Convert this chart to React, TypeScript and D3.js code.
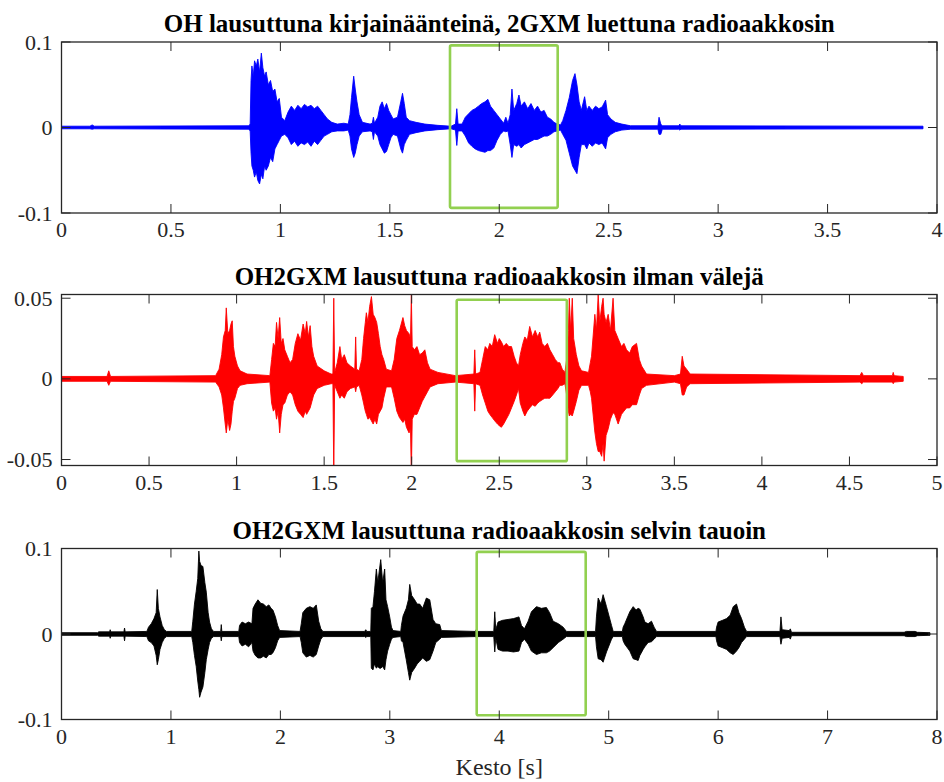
import React from "react";
import * as d3 from "d3";

type Env = [number, number, number][]; // [time s, upper, lower]

const titles = [
  "OH lausuttuna kirjainäänteinä, 2GXM luettuna radioaakkosin",
  "OH2GXM lausuttuna radioaakkosin ilman välejä",
  "OH2GXM lausuttuna radioaakkosin selvin tauoin",
];
const xLabel = "Kesto [s]";

const xTicks1 = [0, 0.5, 1, 1.5, 2, 2.5, 3, 3.5, 4];
const xTicks2 = [0, 0.5, 1, 1.5, 2, 2.5, 3, 3.5, 4, 4.5, 5];
const xTicks3 = [0, 1, 2, 3, 4, 5, 6, 7, 8];
const yTicks1 = [-0.1, 0, 0.1];
const yTicks2 = [-0.05, 0, 0.05];
const yTicks3 = [-0.1, 0, 0.1];

// highlighted word: [t0, t1, top, bottom]
const box1 = [1.775, 2.267, 0.096, -0.094];
const box2 = [2.257, 2.886, 0.049, -0.051];
const box3 = [3.794, 4.79, 0.096, -0.095];

// envelope of the blue waveform
const blueEnv: Env = [
  [0, 0.0015, -0.0015], [0.13, 0.0015, -0.0015], [0.14, 0.003, -0.002], [0.15, 0.0015, -0.0015],
  [0.855, 0.002, -0.002], [0.862, 0.004, -0.004], [0.866, 0.055, -0.03], [0.87, 0.072, -0.045],
  [0.876, 0.06, -0.05], [0.882, 0.078, -0.058], [0.89, 0.072, -0.052], [0.897, 0.08, -0.062],
  [0.905, 0.065, -0.066], [0.913, 0.087, -0.055], [0.92, 0.07, -0.06], [0.928, 0.06, -0.045],
  [0.935, 0.065, -0.05], [0.945, 0.05, -0.045], [0.955, 0.055, -0.035], [0.965, 0.042, -0.04],
  [0.975, 0.045, -0.025], [0.985, 0.03, -0.02], [0.995, 0.034, -0.015], [1.005, 0.012, -0.01],
  [1.02, 0.008, -0.008], [1.035, 0.018, -0.012], [1.05, 0.025, -0.02], [1.065, 0.02, -0.016],
  [1.08, 0.026, -0.022], [1.095, 0.022, -0.018], [1.11, 0.027, -0.02], [1.125, 0.024, -0.017],
  [1.14, 0.026, -0.022], [1.155, 0.022, -0.016], [1.17, 0.025, -0.02], [1.185, 0.02, -0.015],
  [1.2, 0.015, -0.01], [1.215, 0.01, -0.008], [1.235, 0.006, -0.005], [1.26, 0.004, -0.004],
  [1.29, 0.005, -0.004], [1.31, 0.004, -0.003], [1.318, 0.015, -0.01], [1.325, 0.035, -0.025],
  [1.335, 0.06, -0.035], [1.342, 0.045, -0.03], [1.35, 0.03, -0.02], [1.36, 0.015, -0.01],
  [1.375, 0.006, -0.005], [1.41, 0.004, -0.004], [1.42, 0.005, -0.005], [1.425, 0.012, -0.014],
  [1.43, 0.005, -0.005], [1.445, 0.012, -0.01], [1.455, 0.025, -0.02], [1.465, 0.03, -0.025],
  [1.475, 0.022, -0.03], [1.485, 0.028, -0.028], [1.495, 0.02, -0.02], [1.505, 0.015, -0.012],
  [1.515, 0.01, -0.008], [1.535, 0.012, -0.01], [1.55, 0.03, -0.025], [1.558, 0.04, -0.03],
  [1.566, 0.028, -0.02], [1.575, 0.012, -0.015], [1.59, 0.008, -0.008], [1.62, 0.006, -0.006],
  [1.66, 0.004, -0.004], [1.72, 0.0025, -0.0025], [1.78, 0.0015, -0.0015], [1.8, 0.004, -0.003],
  [1.806, 0.022, -0.021], [1.812, 0.004, -0.004], [1.83, 0.004, -0.004], [1.845, 0.012, -0.01],
  [1.86, 0.016, -0.018], [1.875, 0.02, -0.022], [1.89, 0.022, -0.025], [1.905, 0.025, -0.027],
  [1.92, 0.028, -0.028], [1.935, 0.03, -0.029], [1.948, 0.033, -0.027], [1.96, 0.025, -0.027],
  [1.975, 0.02, -0.024], [1.99, 0.015, -0.015], [2.005, 0.01, -0.008], [2.02, 0.005, -0.004],
  [2.03, 0.012, -0.005], [2.04, 0.005, -0.004], [2.05, 0.015, -0.02], [2.058, 0.045, -0.035],
  [2.066, 0.02, -0.02], [2.08, 0.028, -0.022], [2.09, 0.038, -0.02], [2.1, 0.025, -0.024],
  [2.115, 0.03, -0.02], [2.13, 0.022, -0.018], [2.145, 0.028, -0.016], [2.16, 0.02, -0.014],
  [2.175, 0.025, -0.014], [2.19, 0.018, -0.012], [2.205, 0.02, -0.01], [2.22, 0.012, -0.01],
  [2.235, 0.01, -0.008], [2.25, 0.006, -0.005], [2.265, 0.004, -0.004], [2.28, 0.003, -0.003],
  [2.29, 0.008, -0.008], [2.305, 0.02, -0.015], [2.32, 0.035, -0.03], [2.335, 0.055, -0.045],
  [2.346, 0.063, -0.05], [2.355, 0.05, -0.054], [2.365, 0.03, -0.035], [2.375, 0.02, -0.02],
  [2.39, 0.036, -0.02], [2.4, 0.02, -0.025], [2.41, 0.025, -0.018], [2.425, 0.02, -0.022],
  [2.44, 0.025, -0.018], [2.455, 0.022, -0.02], [2.47, 0.024, -0.018], [2.486, 0.032, -0.025],
  [2.495, 0.015, -0.012], [2.51, 0.01, -0.008], [2.53, 0.006, -0.005], [2.56, 0.004, -0.003],
  [2.6, 0.002, -0.002], [2.725, 0.002, -0.002], [2.73, 0.012, -0.008], [2.738, 0.004, -0.008],
  [2.745, 0.002, -0.002], [2.82, 0.002, -0.002], [2.825, 0.004, -0.003], [2.83, 0.002, -0.002],
  [3.936, 0.0015, -0.0015],
];

// red waveform envelope
const redEnv: Env = [
  [0, 0.0015, -0.0015], [0.26, 0.0015, -0.0015], [0.27, 0.005, -0.004], [0.28, 0.0015, -0.0015],
  [0.88, 0.002, -0.002], [0.9, 0.006, -0.005], [0.915, 0.015, -0.01], [0.925, 0.026, -0.018],
  [0.935, 0.03, -0.028], [0.941, 0.044, -0.0335], [0.95, 0.028, -0.025], [0.96, 0.03, -0.032],
  [0.968, 0.034, -0.028], [0.975, 0.036, -0.02], [0.982, 0.02, -0.014], [0.99, 0.014, -0.012],
  [1.005, 0.008, -0.006], [1.02, 0.005, -0.004], [1.06, 0.003, -0.003], [1.19, 0.002, -0.002],
  [1.2, 0.012, -0.015], [1.21, 0.022, -0.02], [1.22, 0.02, -0.018], [1.228, 0.035, -0.025],
  [1.237, 0.025, -0.02], [1.246, 0.038, -0.0335], [1.255, 0.022, -0.022], [1.265, 0.025, -0.016],
  [1.275, 0.018, -0.015], [1.29, 0.014, -0.01], [1.305, 0.01, -0.008], [1.32, 0.012, -0.01],
  [1.335, 0.022, -0.016], [1.35, 0.028, -0.02], [1.365, 0.024, -0.022], [1.38, 0.034, -0.024],
  [1.392, 0.028, -0.02], [1.4, 0.0356, -0.022], [1.41, 0.026, -0.02], [1.42, 0.033, -0.018],
  [1.43, 0.02, -0.014], [1.44, 0.014, -0.01], [1.46, 0.008, -0.006], [1.5, 0.005, -0.004],
  [1.54, 0.003, -0.003], [1.55, 0.003, -0.003], [1.555, 0.05, -0.06], [1.56, 0.004, -0.004],
  [1.575, 0.01, -0.008], [1.59, 0.02, -0.012], [1.6, 0.012, -0.01], [1.615, 0.015, -0.012],
  [1.63, 0.01, -0.008], [1.65, 0.008, -0.006], [1.675, 0.006, -0.005], [1.68, 0.026, -0.008],
  [1.685, 0.006, -0.005], [1.7, 0.005, -0.004], [1.715, 0.012, -0.01], [1.725, 0.025, -0.015],
  [1.735, 0.035, -0.02], [1.741, 0.041, -0.022], [1.75, 0.035, -0.025], [1.76, 0.045, -0.024],
  [1.77, 0.051, -0.026], [1.78, 0.04, -0.028], [1.79, 0.038, -0.025], [1.8, 0.035, -0.028],
  [1.81, 0.028, -0.022], [1.82, 0.02, -0.02], [1.83, 0.015, -0.018], [1.84, 0.012, -0.012],
  [1.855, 0.006, -0.005], [1.885, 0.005, -0.005], [1.9, 0.012, -0.012], [1.915, 0.025, -0.02],
  [1.93, 0.03, -0.024], [1.95, 0.038, -0.027], [1.96, 0.033, -0.025], [1.97, 0.03, -0.03],
  [1.985, 0.028, -0.0335], [1.993, 0.025, -0.03], [1.998, 0.052, -0.06], [2.003, 0.02, -0.025],
  [2.015, 0.018, -0.022], [2.03, 0.02, -0.022], [2.045, 0.015, -0.018], [2.06, 0.016, -0.014],
  [2.075, 0.018, -0.011], [2.09, 0.01, -0.008], [2.105, 0.006, -0.005], [2.15, 0.004, -0.003],
  [2.25, 0.002, -0.002], [2.355, 0.003, -0.003], [2.36, 0.018, -0.02], [2.365, 0.003, -0.003],
  [2.39, 0.004, -0.004], [2.405, 0.012, -0.01], [2.42, 0.02, -0.015], [2.435, 0.018, -0.02],
  [2.446, 0.022, -0.022], [2.46, 0.02, -0.024], [2.474, 0.0274, -0.026], [2.49, 0.022, -0.028],
  [2.5, 0.025, -0.029], [2.512, 0.023, -0.03], [2.525, 0.02, -0.028], [2.54, 0.022, -0.025],
  [2.555, 0.02, -0.022], [2.57, 0.02, -0.018], [2.585, 0.014, -0.014], [2.598, 0.01, -0.01],
  [2.61, 0.008, -0.006], [2.62, 0.015, -0.015], [2.635, 0.022, -0.02], [2.646, 0.026, -0.023],
  [2.66, 0.024, -0.02], [2.674, 0.0325, -0.018], [2.69, 0.026, -0.016], [2.705, 0.03, -0.017],
  [2.72, 0.026, -0.015], [2.731, 0.029, -0.014], [2.745, 0.022, -0.013], [2.76, 0.02, -0.012],
  [2.775, 0.022, -0.012], [2.789, 0.018, -0.012], [2.805, 0.015, -0.01], [2.82, 0.012, -0.008],
  [2.835, 0.01, -0.006], [2.846, 0.01, -0.004], [2.86, 0.006, -0.004], [2.875, 0.004, -0.003],
  [2.885, 0.012, -0.01], [2.895, 0.03, -0.02], [2.9, 0.05, -0.023], [2.908, 0.03, -0.022],
  [2.917, 0.05, -0.023], [2.925, 0.025, -0.02], [2.94, 0.015, -0.014], [2.955, 0.008, -0.007],
  [2.97, 0.005, -0.004], [3.01, 0.004, -0.004], [3.02, 0.01, -0.008], [3.027, 0.014, -0.012],
  [3.046, 0.04, -0.033], [3.055, 0.03, -0.04], [3.065, 0.052, -0.045], [3.074, 0.035, -0.045],
  [3.085, 0.045, -0.048], [3.093, 0.05, -0.04], [3.099, 0.04, -0.051], [3.11, 0.035, -0.035],
  [3.122, 0.04, -0.031], [3.135, 0.03, -0.025], [3.15, 0.05, -0.021], [3.16, 0.03, -0.022],
  [3.179, 0.025, -0.028], [3.198, 0.02, -0.022], [3.212, 0.022, -0.02], [3.227, 0.018, -0.018],
  [3.245, 0.016, -0.018], [3.26, 0.02, -0.016], [3.284, 0.022, -0.016], [3.3, 0.012, -0.01],
  [3.313, 0.008, -0.006], [3.341, 0.003, -0.004], [3.5, 0.002, -0.002], [3.535, 0.003, -0.003],
  [3.545, 0.014, -0.01], [3.555, 0.008, -0.01], [3.57, 0.006, -0.005], [3.59, 0.003, -0.003],
  [4.56, 0.002, -0.002], [4.57, 0.004, -0.003], [4.58, 0.002, -0.002], [4.745, 0.002, -0.002],
  [4.75, 0.004, -0.003], [4.755, 0.002, -0.002], [4.807, 0.0015, -0.0015],
];

// black waveform envelope
const blackEnv: Env = [
  [0, 0.0015, -0.0015], [0.33, 0.0015, -0.0015], [0.34, 0.0025, -0.0025], [0.44, 0.0025, -0.0025],
  [0.445, 0.005, -0.005], [0.45, 0.0025, -0.0025], [0.57, 0.0025, -0.0025], [0.576, 0.007, -0.008],
  [0.582, 0.0025, -0.0025], [0.78, 0.003, -0.003], [0.795, 0.008, -0.008], [0.82, 0.012, -0.01],
  [0.845, 0.018, -0.014], [0.865, 0.025, -0.025], [0.875, 0.052, -0.036], [0.885, 0.03, -0.03],
  [0.9, 0.02, -0.018], [0.92, 0.01, -0.01], [0.94, 0.005, -0.005], [0.96, 0.003, -0.003],
  [1.19, 0.003, -0.003], [1.2, 0.015, -0.01], [1.215, 0.035, -0.025], [1.231, 0.05, -0.038],
  [1.245, 0.065, -0.055], [1.255, 0.097, -0.065], [1.262, 0.085, -0.074], [1.275, 0.08, -0.068],
  [1.292, 0.079, -0.062], [1.31, 0.06, -0.045], [1.323, 0.049, -0.03], [1.34, 0.025, -0.018],
  [1.353, 0.014, -0.01], [1.37, 0.006, -0.005], [1.39, 0.003, -0.003], [1.455, 0.003, -0.003],
  [1.46, 0.011, -0.008], [1.465, 0.003, -0.003], [1.62, 0.003, -0.003], [1.627, 0.01, -0.01],
  [1.65, 0.014, -0.014], [1.68, 0.012, -0.012], [1.71, 0.014, -0.015], [1.74, 0.012, -0.01],
  [1.75, 0.03, -0.02], [1.77, 0.035, -0.025], [1.795, 0.04, -0.028], [1.82, 0.036, -0.028],
  [1.845, 0.035, -0.026], [1.871, 0.032, -0.028], [1.895, 0.034, -0.024], [1.915, 0.03, -0.024],
  [1.932, 0.028, -0.022], [1.955, 0.02, -0.016], [1.975, 0.01, -0.008], [1.993, 0.004, -0.004],
  [2.18, 0.003, -0.003], [2.191, 0.012, -0.01], [2.205, 0.025, -0.022], [2.237, 0.03, -0.027],
  [2.27, 0.032, -0.025], [2.3, 0.03, -0.027], [2.328, 0.034, -0.024], [2.35, 0.015, -0.014],
  [2.37, 0.006, -0.006], [2.389, 0.003, -0.003], [2.77, 0.003, -0.003], [2.78, 0.005, -0.004],
  [2.79, 0.003, -0.003], [2.826, 0.003, -0.003], [2.831, 0.03, -0.04], [2.846, 0.032, -0.042],
  [2.86, 0.05, -0.035], [2.877, 0.076, -0.04], [2.89, 0.06, -0.038], [2.905, 0.075, -0.04],
  [2.917, 0.087, -0.04], [2.935, 0.06, -0.038], [2.953, 0.076, -0.042], [2.965, 0.04, -0.03],
  [2.98, 0.032, -0.02], [2.999, 0.02, -0.012], [3.015, 0.008, -0.006], [3.029, 0.004, -0.004],
  [3.1, 0.003, -0.003], [3.106, 0.01, -0.008], [3.121, 0.021, -0.01], [3.15, 0.03, -0.03],
  [3.17, 0.04, -0.045], [3.182, 0.058, -0.054], [3.2, 0.045, -0.045], [3.227, 0.04, -0.04],
  [3.25, 0.035, -0.035], [3.273, 0.035, -0.032], [3.3, 0.03, -0.028], [3.334, 0.042, -0.032],
  [3.365, 0.04, -0.03], [3.395, 0.017, -0.02], [3.42, 0.012, -0.01], [3.456, 0.011, -0.006],
  [3.471, 0.004, -0.004], [3.78, 0.003, -0.003], [3.79, 0.005, -0.004], [3.8, 0.003, -0.003],
  [3.95, 0.003, -0.003], [3.959, 0.026, -0.021], [3.968, 0.005, -0.005], [3.989, 0.014, -0.018],
  [4.03, 0.016, -0.02], [4.08, 0.017, -0.02], [4.13, 0.018, -0.021], [4.18, 0.02, -0.02],
  [4.203, 0.01, -0.01], [4.23, 0.006, -0.006], [4.264, 0.015, -0.012], [4.294, 0.026, -0.02],
  [4.34, 0.032, -0.024], [4.385, 0.03, -0.022], [4.431, 0.031, -0.022], [4.46, 0.025, -0.02],
  [4.492, 0.015, -0.016], [4.54, 0.012, -0.01], [4.584, 0.008, -0.006], [4.614, 0.003, -0.003],
  [4.88, 0.003, -0.003], [4.888, 0.02, -0.015], [4.904, 0.042, -0.029], [4.93, 0.035, -0.03],
  [4.949, 0.046, -0.033], [4.98, 0.032, -0.021], [5.026, 0.01, -0.006], [5.041, 0.003, -0.003],
  [5.125, 0.003, -0.003], [5.132, 0.008, -0.008], [5.147, 0.012, -0.012], [5.193, 0.026, -0.02],
  [5.224, 0.032, -0.029], [5.25, 0.028, -0.03], [5.269, 0.03, -0.031], [5.285, 0.029, -0.025],
  [5.315, 0.02, -0.018], [5.33, 0.014, -0.015], [5.36, 0.012, -0.01], [5.391, 0.015, -0.009],
  [5.415, 0.008, -0.006], [5.437, 0.003, -0.003], [5.98, 0.003, -0.003], [5.986, 0.008, -0.008],
  [6.0, 0.014, -0.014], [6.04, 0.016, -0.016], [6.077, 0.018, -0.018], [6.11, 0.022, -0.022],
  [6.138, 0.032, -0.024], [6.168, 0.035, -0.02], [6.19, 0.025, -0.016], [6.214, 0.018, -0.01],
  [6.24, 0.008, -0.006], [6.26, 0.003, -0.003], [6.565, 0.003, -0.003], [6.574, 0.02, -0.012],
  [6.585, 0.005, -0.005], [6.65, 0.004, -0.004], [6.66, 0.006, -0.006], [6.67, 0.002, -0.002],
  [7.7, 0.002, -0.002], [7.72, 0.003, -0.003], [7.8, 0.003, -0.003], [7.82, 0.002, -0.002],
  [7.936, 0.0015, -0.0015],
];

const panels = [
  { title: titles[0], env: blueEnv, color: "#0000ff", xMax: 4, xTicks: xTicks1, yDomain: [-0.1, 0.1], yTicks: yTicks1, box: box1, top: 42 },
  { title: titles[1], env: redEnv, color: "#ff0000", xMax: 5, xTicks: xTicks2, yDomain: [-0.0537, 0.0523], yTicks: yTicks2, box: box2, top: 294.5 },
  { title: titles[2], env: blackEnv, color: "#000000", xMax: 8, xTicks: xTicks3, yDomain: [-0.1, 0.1], yTicks: yTicks3, box: box3, top: 548.5 },
];

const left = 61.5;
const right = 937;
const ph = 171;
const font = "Liberation Serif, Times New Roman, DejaVu Serif, serif";
const axisColor = "#262626";
const tickLen = 9;

function Panel({ p, i }: { p: (typeof panels)[number]; i: number }) {
  const x = d3.scaleLinear().domain([0, p.xMax]).range([left, right]);
  const y = d3.scaleLinear().domain(p.yDomain).range([p.top + ph, p.top]);
  const area = d3
    .area<[number, number, number]>()
    .x((d) => x(d[0]))
    .y0((d) => y(d[2]))
    .y1((d) => y(d[1]));
  const path = area(p.env) || "";
  const [b0, b1, bt, bb] = p.box;
  const bottom = p.top + ph;
  return (
    <g>
      <defs>
        <clipPath id={`clip${i}`}>
          <rect x={left} y={p.top} width={right - left} height={ph} />
        </clipPath>
      </defs>
      <g clipPath={`url(#clip${i})`}>
        <path d={path} fill={p.color} stroke={p.color} strokeWidth={0.9} strokeLinejoin="round" />
      </g>
      <rect
        x={x(b0)}
        y={y(bt)}
        width={x(b1) - x(b0)}
        height={y(bb) - y(bt)}
        fill="none"
        stroke="#92d050"
        strokeWidth={2.6}
        rx={1.5}
      />
      {p.xTicks.map((t) => (
        <g key={`xt${t}`}>
          <line x1={x(t)} x2={x(t)} y1={bottom} y2={bottom - tickLen} stroke={axisColor} strokeWidth={1} />
          <line x1={x(t)} x2={x(t)} y1={p.top} y2={p.top + tickLen} stroke={axisColor} strokeWidth={1} />
          <text x={x(t)} y={bottom + 24} textAnchor="middle" style={{ fontFamily: font, fontSize: 22 }} fill="#262626">
            {String(t)}
          </text>
        </g>
      ))}
      {p.yTicks.map((t) => (
        <g key={`yt${t}`}>
          <line x1={left} x2={left + tickLen} y1={y(t)} y2={y(t)} stroke={axisColor} strokeWidth={1} />
          <line x1={right} x2={right - tickLen} y1={y(t)} y2={y(t)} stroke={axisColor} strokeWidth={1} />
          <text x={left - 9} y={y(t) + 7.5} textAnchor="end" style={{ fontFamily: font, fontSize: 22 }} fill="#262626">
            {String(t)}
          </text>
        </g>
      ))}
      <rect x={left} y={p.top} width={right - left} height={ph} fill="none" stroke={axisColor} strokeWidth={1.3} />
      <text
        x={(left + right) / 2}
        y={p.top - 10}
        textAnchor="middle"
        style={{ fontFamily: font, fontWeight: "bold", fontSize: 25 }}
        fill="#000"
      >
        {p.title}
      </text>
    </g>
  );
}

export default function App() {
  return (
    <svg
      width={944}
      height={782}
      style={{ position: "absolute", left: 0, top: 0, background: "#fff", fontFamily: font }}
    >
      <rect width={944} height={782} fill="#fff" />
      {panels.map((p, i) => (
        <Panel key={i} p={p} i={i} />
      ))}
      <text x={(left + right) / 2} y={775} textAnchor="middle" style={{ fontFamily: font, fontSize: 24 }} fill="#262626">
        {xLabel}
      </text>
    </svg>
  );
}
